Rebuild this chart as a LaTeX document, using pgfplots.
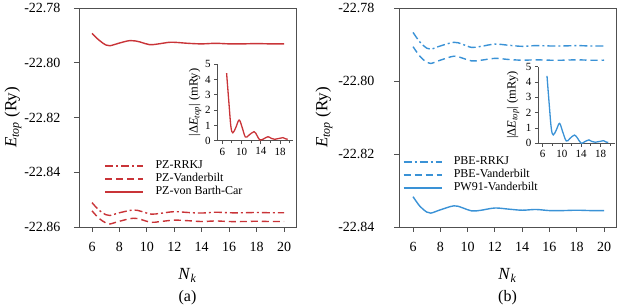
\documentclass[border=0pt]{standalone}
\usepackage{fontspec}
\setmainfont{Liberation Serif}
\usepackage{pgfplots}
\pgfplotsset{compat=1.18}

\definecolor{pzred}{RGB}{201,52,56}
\definecolor{pbeblue}{RGB}{58,146,214}
\definecolor{framegray}{RGB}{80,80,80}

\pgfplotsset{
  mainaxis/.style={
    scale only axis, width=217bp, height=219bp, anchor=south west,
    xtick={6,8,...,20},
    tick align=outside, tick pos=left,
    major tick length=5bp,
    axis line style={framegray, line width=0.9bp},
    tick style={framegray, line width=0.9bp},
    tick label style={font=\fontsize{14bp}{16bp}\selectfont, text=black},
    % a tall strut keeps the N_k tick numbers a little further below the axis
    xticklabel={\rule{0pt}{16bp}\pgfmathprintnumber{\tick}},
    /pgf/number format/assume math mode=true,
    label style={font=\fontsize{17bp}{19bp}\selectfont},
    xlabel={\textit{N}\textsubscript{\textit{k}}},
    xlabel style={at={(axis description cs:0.5,-0.22)}, anchor=center},
    ylabel={\textit{E}\textsubscript{\textit{top}} (Ry)},
    clip=false,
    legend cell align=left,
    legend image code/.code={\draw[##1] (0bp,0bp) -- (38bp,0bp);},
    legend style={draw=none, fill=none, inner sep=0pt, outer sep=0pt,
      anchor=north west,
      font=\fontsize{12bp}{14bp}\selectfont, row sep=1bp, column sep=11bp,
      nodes={inner sep=0.5bp, text height=8.5bp, text depth=2.5bp}},
  },
  curve/.style={line width=1.4bp, smooth, tension=0.6, mark=none},
  dashdot/.style={dash pattern=on 8bp off 3bp on 2bp off 3bp},
  longdash/.style={dash pattern=on 7bp off 4bp},
  inset/.style={
    scale only axis, anchor=south west, height=76.5bp,
    ymin=0, ymax=5, ytick={0,1,2,3,4,5},
    xtick={6,10,14,18}, minor xtick={8,12,16,20},
    axis lines*=left, tick align=outside,
    major tick length=3.5bp, minor tick length=2.5bp,
    axis line style={framegray, line width=0.9bp},
    tick style={framegray, line width=0.8bp},
    tick label style={font=\fontsize{11bp}{13bp}\selectfont, text=black},
    /pgf/number format/assume math mode=true,
    ylabel={|Δ\textit{E}\textsubscript{\textit{top}}| (mRy)},
    ylabel style={font=\fontsize{12.5bp}{14bp}\selectfont, anchor=center},
  },
}

\begin{document}
\begin{tikzpicture}
\path[use as bounding box] (0,0) rectangle (618bp,306bp);

% ---------------- (a) PZ functionals ----------------
\begin{axis}[mainaxis, at={(79bp,79bp)},
  xmin=5.05, xmax=20.875, ymin=-22.86, ymax=-22.78,
  ytick={-22.86,-22.84,-22.82,-22.80,-22.78},
  yticklabels={-22.86,-22.84,-22.82,-22.80,-22.78},
  yticklabel style={xshift=-10bp},
  ylabel style={at={(axis description cs:-0.304,0.5)}, anchor=center},
  legend style={at={(axis description cs:0.118,0.306)}}]
\addplot[curve, pzred, dashdot] coordinates {
  (6,-22.8511) (6.5,-22.8538) (7,-22.8555) (7.3,-22.8558) (8,-22.8548)
  (9,-22.8538) (9.6,-22.8543) (10.3,-22.8553) (11,-22.8550) (12,-22.8544)
  (13,-22.8547) (14,-22.8549) (15,-22.8546) (16,-22.8548) (17,-22.8548)
  (18,-22.8547) (19,-22.8548) (20,-22.8548)};
\addlegendentry{PZ-RRKJ}
\addplot[curve, pzred, longdash] coordinates {
  (6,-22.8541) (6.5,-22.8568) (7,-22.8585) (7.3,-22.8589) (8,-22.8579)
  (9,-22.8568) (9.6,-22.8573) (10.3,-22.8583) (11,-22.8580) (12,-22.8575)
  (13,-22.8577) (14,-22.8580) (15,-22.8578) (16,-22.8580) (17,-22.8580)
  (18,-22.8579) (19,-22.8580) (20,-22.8580)};
\addlegendentry{PZ-Vanderbilt}
\addplot[curve, pzred] coordinates {
  (6,-22.7893) (6.5,-22.7917) (7,-22.7935) (7.3,-22.7938) (8,-22.7928)
  (8.8,-22.7919) (9.5,-22.7924) (10.2,-22.7934) (11,-22.7930) (11.8,-22.7925)
  (13,-22.7929) (14,-22.7931) (15,-22.7929) (16,-22.7931) (17,-22.7931)
  (18,-22.7930) (19,-22.7931) (20,-22.7931)};
\addlegendentry{PZ-von Barth-Car}
\node[font=\fontsize{16bp}{18bp}\selectfont] at (axis description cs:0.5,-0.322) {(a)};
\end{axis}

\begin{axis}[inset, at={(217.7bp,165.3bp)}, width=75.3bp,
  xmin=5.05, xmax=20.7,
  ylabel style={at={(axis description cs:-0.30,0.5)}}]
\addplot[curve, pzred, line width=1.3bp] coordinates {
  (6.9,4.41) (7.4,2.4) (7.8,0.9) (8.2,0.52) (8.8,0.85) (9.5,1.35) (10.1,0.9)
  (10.8,0.24) (11.5,0.35) (12.6,0.59) (13.2,0.35) (13.8,0.05) (14.6,0.12)
  (15.5,0.26) (16.2,0.15) (16.9,0.09) (17.8,0.15) (18.6,0.2) (19.2,0.12)
  (19.6,0.09)};
\end{axis}

% ---------------- (b) GGA functionals ----------------
\begin{axis}[mainaxis, at={(399bp,79bp)},
  xmin=4.97, xmax=20.88, ymin=-22.84, ymax=-22.78,
  ytick={-22.84,-22.82,-22.80,-22.78},
  yticklabels={-22.84,-22.82,-22.80,-22.78},
  yticklabel style={xshift=-16bp},
  ylabel style={at={(axis description cs:-0.346,0.5)}, anchor=center},
  legend style={at={(axis description cs:0.018,0.325)}}]
\addplot[curve, pbeblue, dashdot] coordinates {
  (6,-22.7867) (6.5,-22.7893) (7,-22.7910) (7.3,-22.7913) (8,-22.7904)
  (9,-22.7894) (9.6,-22.7899) (10.3,-22.7908) (11,-22.7905) (12,-22.7899)
  (13,-22.7902) (14,-22.7905) (15,-22.7903) (16,-22.7904) (17,-22.7904)
  (18,-22.7903) (19,-22.7904) (20,-22.7904)};
\addlegendentry{PBE-RRKJ}
\addplot[curve, pbeblue, longdash] coordinates {
  (6,-22.7906) (6.5,-22.7932) (7,-22.7949) (7.3,-22.7952) (8,-22.7943)
  (9,-22.7932) (9.6,-22.7937) (10.3,-22.7945) (11,-22.7943) (12,-22.7938)
  (13,-22.7941) (14,-22.7943) (15,-22.7942) (16,-22.7943) (17,-22.7943)
  (18,-22.7942) (19,-22.7943) (20,-22.7943)};
\addlegendentry{PBE-Vanderbilt}
\addplot[curve, pbeblue] coordinates {
  (6,-22.8317) (6.5,-22.8343) (7,-22.8359) (7.3,-22.8362) (8,-22.8353)
  (9,-22.8342) (9.6,-22.8347) (10.3,-22.8356) (11,-22.8354) (12,-22.8348)
  (13,-22.8351) (14,-22.8354) (15,-22.8352) (16,-22.8355) (17,-22.8355)
  (18,-22.8354) (19,-22.8355) (20,-22.8355)};
\addlegendentry{PW91-Vanderbilt}
\node[font=\fontsize{16bp}{18bp}\selectfont] at (axis description cs:0.5,-0.322) {(b)};
\end{axis}

\begin{axis}[inset, at={(538.3bp,162.7bp)}, width=76.7bp,
  xmin=5.1, xmax=21,
  ylabel style={at={(axis description cs:-0.33,0.5)}}]
\addplot[curve, pbeblue, line width=1.3bp] coordinates {
  (6.9,4.41) (7.4,2.4) (7.8,0.95) (8.2,0.55) (8.8,0.85) (9.5,1.3) (10.1,0.8)
  (10.9,0.15) (11.6,0.3) (12.6,0.54) (13.3,0.3) (14.0,0.0) (14.7,0.1)
  (15.6,0.22) (16.2,0.12) (16.9,0.07) (17.8,0.12) (18.6,0.17) (19.2,0.08)
  (19.6,0.06)};
\end{axis}
\end{tikzpicture}
\end{document}
